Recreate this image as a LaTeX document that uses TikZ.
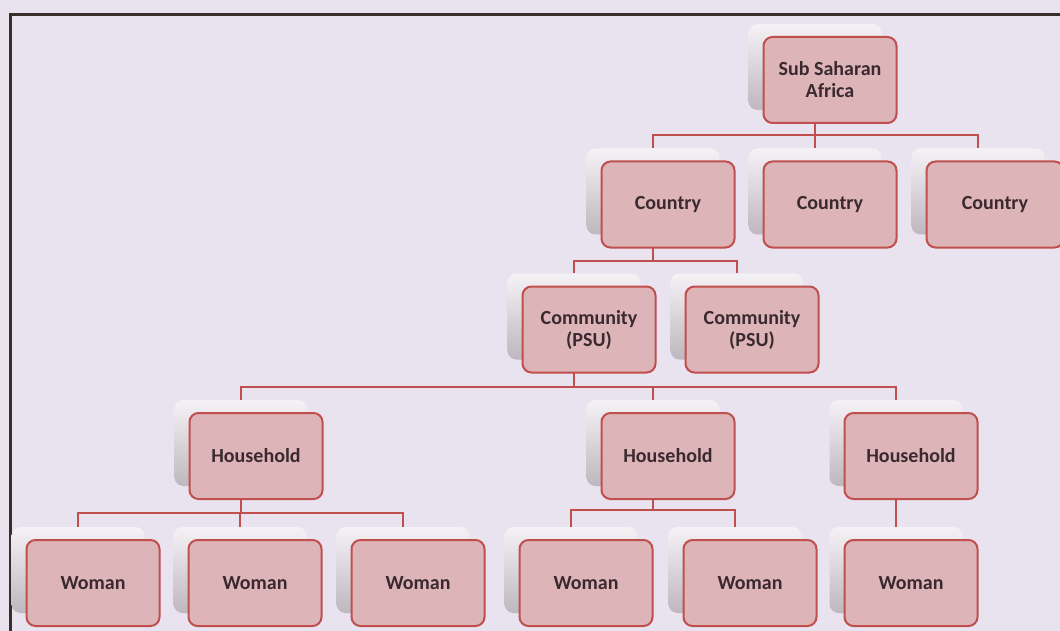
\documentclass[tikz,border=0pt]{standalone}
\usepackage{fontspec}
\setmainfont{Carlito}
\usetikzlibrary{positioning}

\pgfdeclarelayer{paperlayer}
\pgfdeclarelayer{wirelayer}
\pgfsetlayers{paperlayer,wirelayer,main}

\definecolor{paper}{RGB}{233,226,239}
\definecolor{boxfill}{RGB}{221,180,184}
\definecolor{boxline}{RGB}{192,80,77}
\definecolor{ink}{RGB}{58,42,48}
\definecolor{framecol}{RGB}{60,45,45}
\definecolor{shadetop}{RGB}{245,242,246}
\definecolor{shadebot}{RGB}{190,183,190}

\tikzset{
  levelbox/.style={draw=boxline, fill=boxfill, line width=2pt, rounded corners=9pt,
    minimum width=133pt, minimum height=86pt, inner sep=0pt, align=center,
    text=ink, font=\bfseries\fontsize{20}{22}\selectfont},
  backbox/.style={draw=none, rounded corners=9pt, minimum width=133pt,
    minimum height=86pt, top color=shadetop, bottom color=shadebot},
  link/.style={draw=boxline, line width=2pt},
}

\begin{document}
\begin{tikzpicture}[x=1pt,y=-1pt]
\useasboundingbox (0,0) rectangle (1060,631);
\begin{pgfonlayer}{paperlayer}
\fill[paper] (0,0) rectangle (1060,631);
\end{pgfonlayer}

% frame of the page
\draw[framecol, line width=3pt] (10,631) -- (10,15) -- (1060,15);

%--------------------------------------------------------
% region
\node[backbox] (ssa-b) at (815,67) {};
\node[levelbox] (ssa) at ([shift={(15,13)}]ssa-b) {Sub Saharan\\Africa};

% countries
\node[backbox] (c1-b) at (653,191.5) {};
\node[backbox] (c2-b) at (815,191.5) {};
\node[backbox] (c3-b) at (978,191.5) {};
\node[levelbox] (c1) at ([shift={(15,13)}]c1-b) {Country};
\node[levelbox] (c2) at ([shift={(15,13)}]c2-b) {Country};
\node[levelbox, minimum width=137pt] (c3) at ([shift={(17,13)}]c3-b) {Country};

% communities
\node[backbox] (m1-b) at (574,316.5) {};
\node[backbox] (m2-b) at (737,316.5) {};
\node[levelbox] (m1) at ([shift={(15,13)}]m1-b) {Community\\(PSU)};
\node[levelbox] (m2) at ([shift={(15,13)}]m2-b) {Community\\(PSU)};

% households
\node[backbox] (h1-b) at (241,443) {};
\node[backbox] (h2-b) at (653,443) {};
\node[backbox] (h3-b) at (896,443) {};
\node[levelbox] (h1) at ([shift={(15,13)}]h1-b) {Household};
\node[levelbox] (h2) at ([shift={(15,13)}]h2-b) {Household};
\node[levelbox] (h3) at ([shift={(15,13)}]h3-b) {Household};

% women
\node[backbox] (w1-b) at (78,570) {};
\node[backbox] (w2-b) at (240,570) {};
\node[backbox] (w3-b) at (403,570) {};
\node[backbox] (w4-b) at (571,570) {};
\node[backbox] (w5-b) at (735,570) {};
\node[backbox] (w6-b) at (896,570) {};
\node[levelbox] (w1) at ([shift={(15,13)}]w1-b) {Woman};
\node[levelbox] (w2) at ([shift={(15,13)}]w2-b) {Woman};
\node[levelbox] (w3) at ([shift={(15,13)}]w3-b) {Woman};
\node[levelbox] (w4) at ([shift={(15,13)}]w4-b) {Woman};
\node[levelbox] (w5) at ([shift={(15,13)}]w5-b) {Woman};
\node[levelbox] (w6) at ([shift={(15,13)}]w6-b) {Woman};

%--------------------------------------------------------
\begin{pgfonlayer}{wirelayer}
\foreach \kid in {c1,c2,c3}
  \draw[link] (ssa-b.south) -- ++(0,25) -| (\kid-b.north);
\foreach \kid in {m1,m2}
  \draw[link] (c1-b.south) -- ++(0,26) -| (\kid-b.north);
\foreach \kid in {h1,h2,h3}
  \draw[link] (m1-b.south) -- ++(0,27) -| (\kid-b.north);
\foreach \kid in {w1,w2,w3}
  \draw[link] (h1-b.south) -- ++(0,27) -| (\kid-b.north);
\foreach \kid in {w4,w5}
  \draw[link] (h2-b.south) -- ++(0,24) -| (\kid-b.north);
\draw[link] (h3-b.south) -- (w6-b.north);
\end{pgfonlayer}
\end{tikzpicture}
\end{document}
